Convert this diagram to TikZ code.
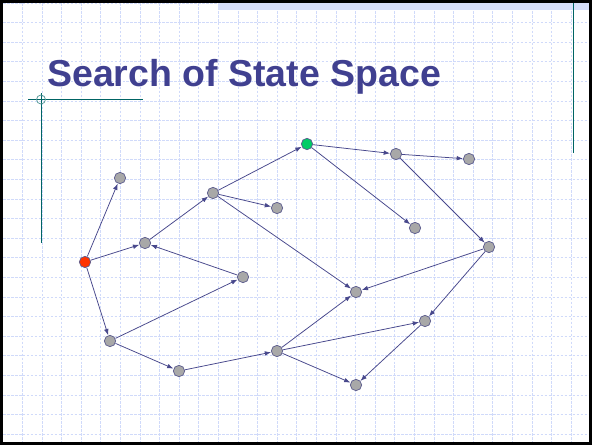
\documentclass[tikz,border=0pt]{standalone}
\usepackage{fontspec}
\setmainfont{Liberation Sans}
\usetikzlibrary{arrows.meta}
\definecolor{gridblue}{RGB}{208,218,250}
\definecolor{bandblue}{RGB}{214,222,250}
\definecolor{deco}{RGB}{0,100,100}
\definecolor{ttl}{RGB}{64,64,144}
\definecolor{edg}{RGB}{72,72,140}
\definecolor{rim}{RGB}{90,90,140}
\definecolor{stgray}{RGB}{168,168,168}
\definecolor{stred}{RGB}{255,51,0}
\definecolor{stgreen}{RGB}{0,204,102}
\tikzset{
  st/.style={draw=rim,circle,fill=stgray,minimum size=3.4mm,inner sep=0,line width=0.6pt},
  start/.style={st,fill=stred},
  goal/.style={st,fill=stgreen},
  mv/.style={-{Latex[length=1.9mm,width=1.4mm]},draw=edg,line width=0.65pt},
  gridln/.style={draw=gridblue,line width=0.8pt,dash pattern=on 2.2pt off 1.2pt},
}
\begin{document}
\begin{tikzpicture}[x=0.03cm,y=-0.03cm]
\useasboundingbox (0,0) rectangle (592,445);
\fill[white] (0,0) rectangle (592,445);
% grid
\foreach \x in {0,...,30} \draw[gridln] (2.9+19.6*\x,3) -- (2.9+19.6*\x,442);
\foreach \y in {0,...,22} \draw[gridln] (3,3.1+19.6*\y) -- (589,3.1+19.6*\y);
\fill[bandblue] (218,3) rectangle (589,10);
% decoration
\draw[deco,line width=0.7pt] (573,3) -- (573,153);
\draw[deco,line width=0.7pt] (28,99.5) -- (143,99.5);
\draw[deco,line width=0.7pt] (41,93) -- (41,243);
\draw[deco!70,line width=0.6pt] (41,99.5) circle (4.5);
\draw[black,line width=3pt] (1.5,1.5) rectangle (590.5,443.5);
% title
\node[anchor=base west,text=ttl,font=\fontsize{32}{38}\selectfont\bfseries,inner sep=0] (title) at (47,86) {Search of State Space};
% states
\node[start] (s0) at (85,262) {};
\node[st] (n1) at (120,178) {};
\node[st] (n2) at (145,243) {};
\node[st] (n3) at (213,193) {};
\node[st] (n4) at (277,208) {};
\node[goal] (g) at (307,144) {};
\node[st] (n5) at (396,154) {};
\node[st] (n6) at (469,159) {};
\node[st] (n7) at (415,228) {};
\node[st] (n8) at (489,247) {};
\node[st] (n9) at (243,277) {};
\node[st] (n10) at (110,341) {};
\node[st] (n11) at (179,371) {};
\node[st] (n12) at (277,351) {};
\node[st] (n13) at (356,292) {};
\node[st] (n14) at (425,321) {};
\node[st] (n15) at (356,385) {};
% moves
\draw[mv] (s0) -- (n1);
\draw[mv] (s0) -- (n2);
\draw[mv] (s0) -- (n10);
\draw[mv] (n2) -- (n3);
\draw[mv] (n9) -- (n2);
\draw[mv] (n10) -- (n9);
\draw[mv] (n10) -- (n11);
\draw[mv] (n11) -- (n12);
\draw[mv] (n3) -- (g);
\draw[mv] (n3) -- (n4);
\draw[mv] (n3) -- (n13);
\draw[mv] (g) -- (n5);
\draw[mv] (g) -- (n7);
\draw[mv] (n5) -- (n6);
\draw[mv] (n5) -- (n8);
\draw[mv] (n8) -- (n13);
\draw[mv] (n8) -- (n14);
\draw[mv] (n12) -- (n13);
\draw[mv] (n12) -- (n14);
\draw[mv] (n12) -- (n15);
\draw[mv] (n14) -- (n15);
\end{tikzpicture}
\end{document}
